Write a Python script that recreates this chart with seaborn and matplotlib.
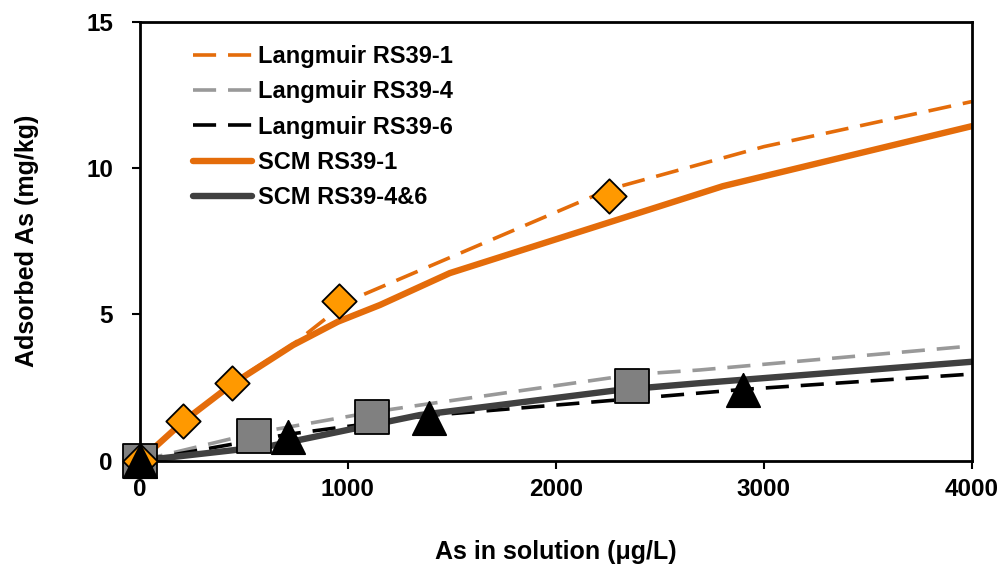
import matplotlib
matplotlib.use("Agg")
import matplotlib.pyplot as plt
import pandas as pd
import seaborn as sns

# ---- measured points ----
rs1_x = [0, 209, 442, 957, 2255]
rs1_y = [0, 1.34, 2.67, 5.46, 9.06]
rs4_x = [0, 548, 1115, 2368]
rs4_y = [0, 0.83, 1.50, 2.55]
rs6_x = [0, 711, 1390, 2899]
rs6_y = [0, 0.81, 1.45, 2.43]

# ---- model curves ----
lang1_x = [0, 210, 440, 740, 1000, 2260, 3000, 4000]
lang1_y = [0, 1.35, 2.65, 4.00, 5.45, 9.28, 10.73, 12.27]
lang4_x = [0, 555, 1110, 1346, 2380, 2692, 4000]
lang4_y = [0, 0.95, 1.65, 1.90, 2.95, 3.10, 3.92]
lang6_x = [0, 710, 1400, 2067, 2890, 4000]
lang6_y = [0, 0.90, 1.55, 1.94, 2.43, 2.96]
scm1_x = [0, 210, 440, 736, 952, 1154, 1490, 2803, 4000]
scm1_y = [0, 1.35, 2.60, 3.95, 4.75, 5.32, 6.41, 9.38, 11.43]
scm46_x = [0, 625, 1072, 1346, 2308, 2692, 4000]
scm46_y = [0, 0.50, 1.16, 1.56, 2.42, 2.65, 3.38]

legend_labels = ["Langmuir RS39-1", "Langmuir RS39-4", "Langmuir RS39-6",
                 "SCM RS39-1", "SCM RS39-4&6"]

sns.set_style("ticks")
plt.rcParams['font.family'] = ['Liberation Sans', 'DejaVu Sans']
plt.rcParams['font.weight'] = 'bold'
for k in ['text.color', 'axes.labelcolor', 'xtick.color', 'ytick.color', 'axes.edgecolor']:
    plt.rcParams[k] = 'black'

fig = plt.figure(figsize=(10.06, 5.67), dpi=100)
ax = fig.add_axes([140/1006, 1-460.7/567, (971.7-140)/1006, (460.7-21.7)/567])

ORANGE = "#E46C0A"
dash = (6.4, 3.3)
curves = [
    (lang1_x, lang1_y, legend_labels[0], ORANGE, 2.6, dash),
    (lang4_x, lang4_y, legend_labels[1], "#999999", 2.6, dash),
    (lang6_x, lang6_y, legend_labels[2], "black", 2.6, dash),
    (scm1_x, scm1_y, legend_labels[3], ORANGE, 4.6, None),
    (scm46_x, scm46_y, legend_labels[4], "#404040", 4.6, None),
]
for xs, ys, lab, col, lw, ds in curves:
    df = pd.DataFrame({"x": xs, "y": ys})
    sns.lineplot(data=df, x="x", y="y", ax=ax, color=col, lw=lw,
                 estimator=None, sort=False, label=lab, zorder=2)
    l = ax.get_lines()[-1]
    if ds is not None:
        l.set_dashes(ds)
    l.set_solid_capstyle('round')

marker_sets = [
    (rs4_x, rs4_y, "s", "#808080", 24),
    (rs1_x, rs1_y, "D", "#FF9900", 17.5),
    (rs6_x, rs6_y, "^", "black", 24),
]
for xs, ys, mk, col, ms in marker_sets:
    df = pd.DataFrame({"x": xs, "y": ys})
    sns.scatterplot(data=df, x="x", y="y", ax=ax, marker=mk, color=col,
                    s=ms**2, edgecolor="black", linewidth=1.3,
                    legend=False, zorder=5, clip_on=False)

ax.set_xlim(0, 4000)
ax.set_ylim(0, 15)
ax.set_xticks([0, 1000, 2000, 3000, 4000])
ax.set_yticks([0, 5, 10, 15])
ax.tick_params(axis='both', direction='out', length=5.5, width=1.5,
               labelsize=17.5)
ax.tick_params(axis='x', pad=7)
ax.tick_params(axis='y', pad=14)
for t in ax.get_xticklabels() + ax.get_yticklabels():
    t.set_fontweight('bold')
for s in ax.spines.values():
    s.set_linewidth(2)
    s.set_visible(True)

ax.set_xlabel("As in solution (\u03bcg/L)", fontsize=18, fontweight='bold')
ax.set_ylabel("Adsorbed As (mg/kg)", fontsize=18, fontweight='bold')
ax.xaxis.set_label_coords(0.5, (460.7-540)/439)
ax.yaxis.set_label_coords((39-140)/832, 0.5)

ax.legend(loc='upper left', bbox_to_anchor=(0.0524, 0.968), frameon=False,
          prop={'size': 17, 'weight': 'bold'}, handlelength=2.5,
          handletextpad=0.25, labelspacing=0.52, borderaxespad=0)

fig.savefig("out.png", dpi=100)
